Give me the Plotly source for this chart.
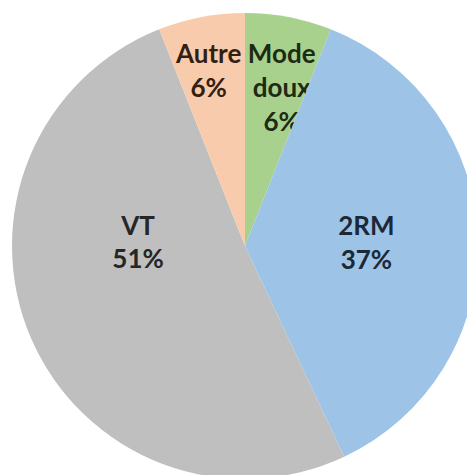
import plotly.graph_objects as go

categories = ["Mode<br>doux", "2RM", "VT", "Autre"]
values = [6, 37, 51, 6]
colors = ["#A9D18E", "#9DC3E6", "#BFBFBF", "#F8CBAD"]
text_colors = ["#1E2B14", "#1B2838", "#262626", "#33200F"]

# label placement tweaks (blank lines above / below each label) to mimic the original layout
pad_top = [2, 0, 0, 1]
pad_bottom = [0, 0, 3, 0]

total = sum(values)
labels_text = [
    "&nbsp;<br>" * pt + "<b>" + c + "<br>" + f"{round(100 * v / total)}%" + "</b>" + "<br>&nbsp;" * pb
    for c, v, pt, pb in zip(categories, values, pad_top, pad_bottom)
]

fig = go.Figure(go.Pie(
    labels=categories,
    values=values,
    text=labels_text,
    sort=False,
    direction="clockwise",
    rotation=0,
    marker=dict(colors=colors, line=dict(color="white", width=0)),
    texttemplate="%{text}",
    textposition="inside",
    insidetextorientation="horizontal",
    insidetextfont=dict(family="Lato", size=26, color=text_colors),
    hoverinfo="skip",
    showlegend=False,
))

fig.update_layout(
    width=475, height=475,
    margin=dict(l=0, r=0, t=0, b=0),
    paper_bgcolor="white",
    uniformtext=dict(minsize=26, mode="show"),
)
fig.update_traces(domain=dict(x=[4 / 475, 470 / 475], y=[1 - 471 / 475, 1 - 5 / 475]))

fig.write_html("out.html")
